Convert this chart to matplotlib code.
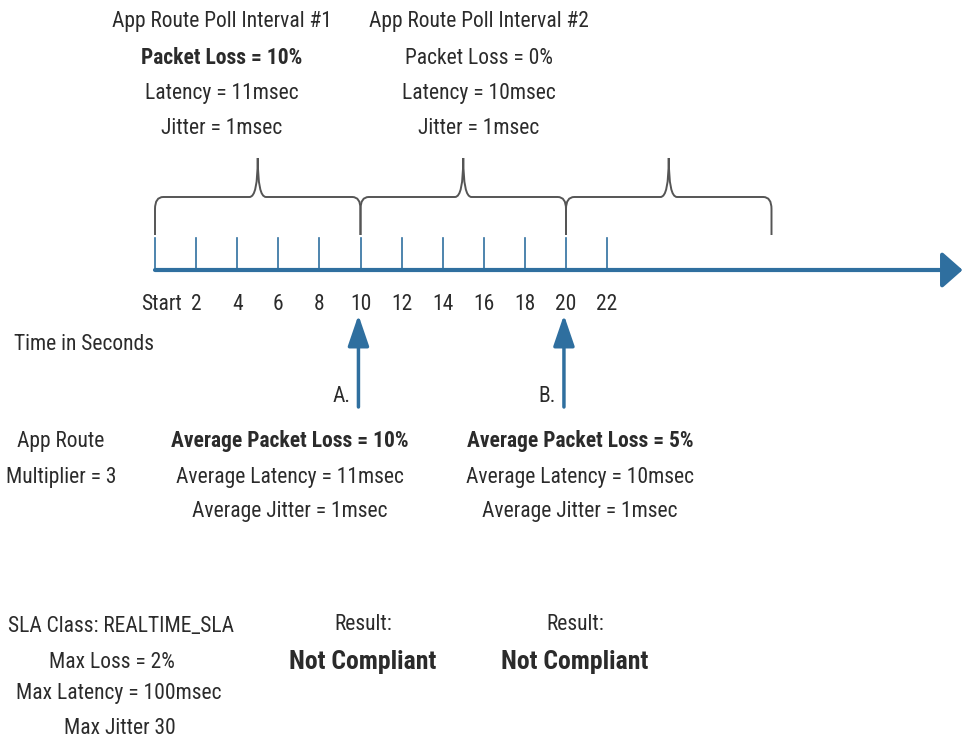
import matplotlib
matplotlib.use("Agg")
import matplotlib.pyplot as plt
from matplotlib import font_manager
from matplotlib.path import Path
from matplotlib.patches import PathPatch

# timeline data (seconds)
tick_times = [0, 2, 4, 6, 8, 10, 12, 14, 16, 18, 20, 22]
tick_labels = ["Start", "2", "4", "6", "8", "10", "12", "14", "16", "18", "20", "22"]
interval_bounds = [0, 10, 20, 30]
timeline_end = 39.3

poll_titles = ["App Route Poll Interval #1", "App Route Poll Interval #2"]
poll_loss = ["10%", "0%"]
poll_latency = ["11msec", "10msec"]
poll_jitter = ["1msec", "1msec"]

check_times = [10, 20]
check_names = ["A.", "B."]
avg_loss = ["10%", "5%"]
avg_latency = ["11msec", "10msec"]
avg_jitter = ["1msec", "1msec"]
results = ["Not Compliant", "Not Compliant"]

multiplier = 3
sla_name = "REALTIME_SLA"
sla_loss = "2%"
sla_latency = "100msec"
sla_jitter = "30"

BLUE = "#2f6f9f"
GRAY = "#555555"
TEXT = "#2b2b2b"

# pick a narrow sans that has a real bold face
candidates = ["Roboto Condensed", "Archivo Narrow", "PT Sans Narrow", "Liberation Sans Narrow",
              "Arial Narrow", "Fira Sans Condensed", "IBM Plex Sans Condensed",
              "Encode Sans Condensed", "Open Sans Condensed", "Barlow Semi Condensed"]
faces = {}
for f in font_manager.fontManager.ttflist:
    faces.setdefault(f.name, set()).add(f.weight)
FONT_NAME = "DejaVu Sans"
for c in candidates:
    if c in faces and any(w in (700, "bold") for w in faces[c]):
        FONT_NAME = c
        break
FONT = [FONT_NAME, "DejaVu Sans"]
SCALE = 1.0 if FONT_NAME != "DejaVu Sans" else 0.85

PX = 20.55   # pixels per second
X0 = 155     # pixel position of Start


def sx(px):
    return (px - X0) / PX


fig = plt.figure(figsize=(9.63, 7.45), dpi=100)
ax = fig.add_axes([0, 0, 1, 1])
ax.set_xlim(sx(0), sx(963))
ax.set_ylim(745, 0)
ax.axis("off")


def txt(x, y, s, size=15.5, bold=False, ha="center"):
    ax.text(x, y, s, ha=ha, va="center", fontsize=size * SCALE, color=TEXT,
            family=FONT, fontweight="bold" if bold else "normal")


def brace(a, b, y_top=235, y_bar=197, y_peak=158):
    r = 0.4
    m = (a + b) / 2
    verts = [(a, y_top), (a, y_bar + 12), (a, y_bar), (a + r, y_bar),
             (m - r, y_bar), (m, y_bar), (m, y_peak),
             (m, y_bar), (m + r, y_bar),
             (b - r, y_bar), (b, y_bar), (b, y_bar + 12), (b, y_top)]
    codes = [Path.MOVETO, Path.LINETO, Path.CURVE3, Path.CURVE3,
             Path.LINETO, Path.CURVE3, Path.CURVE3,
             Path.CURVE3, Path.CURVE3,
             Path.LINETO, Path.CURVE3, Path.CURVE3, Path.LINETO]
    ax.add_patch(PathPatch(Path(verts, codes), fill=False, edgecolor=GRAY, lw=1.4))


# main timeline
ax.annotate("", xy=(timeline_end, 270), xytext=(0, 270),
            arrowprops=dict(arrowstyle="-|>,head_length=1.25,head_width=1.1",
                            mutation_scale=10, color=BLUE, lw=3, shrinkA=0, shrinkB=0))
for t, lab in zip(tick_times, tick_labels):
    ax.plot([t, t], [238, 270], color=BLUE, lw=1.2)
    txt(t + (0.3 if lab == "Start" else 0), 305, lab)
txt(sx(14), 345, "Time in Seconds", ha="left")

# poll interval braces
for a, b in zip(interval_bounds[:-1], interval_bounds[1:]):
    brace(a, b)

for cx, title, loss, lat, jit, bold in zip([222, 479], poll_titles, poll_loss,
                                           poll_latency, poll_jitter, [True, False]):
    txt(sx(cx), 22, title)
    txt(sx(cx), 58, f"Packet Loss = {loss}", bold=bold)
    txt(sx(cx), 94, f"Latency = {lat}")
    txt(sx(cx), 128, f"Jitter = {jit}")

# checkpoints
for t, name, cx, loss, lat, jit, res, rx in zip(check_times, check_names, [290, 580],
                                                avg_loss, avg_latency, avg_jitter,
                                                results, [363, 575]):
    ax.annotate("", xy=(t - 0.1, 315), xytext=(t - 0.1, 407),
                arrowprops=dict(arrowstyle="-|>,head_length=1.9,head_width=0.65",
                                mutation_scale=10, color=BLUE, lw=2.5,
                                shrinkA=0, shrinkB=0))
    txt(t - 0.5, 397, name, ha="right")
    txt(sx(cx), 441, f"Average Packet Loss = {loss}", bold=True)
    txt(sx(cx), 477, f"Average Latency = {lat}")
    txt(sx(cx), 512, f"Average Jitter = {jit}")
    txt(sx(rx), 625, "Result:")
    txt(sx(rx), 662, res, size=18.5, bold=True)

txt(sx(61), 441, "App Route")
txt(sx(61), 477, f"Multiplier = {multiplier}")

txt(sx(121), 627, f"SLA Class: {sla_name}")
txt(sx(112), 662, f"Max Loss = {sla_loss}")
txt(sx(119), 694, f"Max Latency = {sla_latency}")
txt(sx(120), 728, f"Max Jitter {sla_jitter}")

fig.savefig("out.png", dpi=100)
